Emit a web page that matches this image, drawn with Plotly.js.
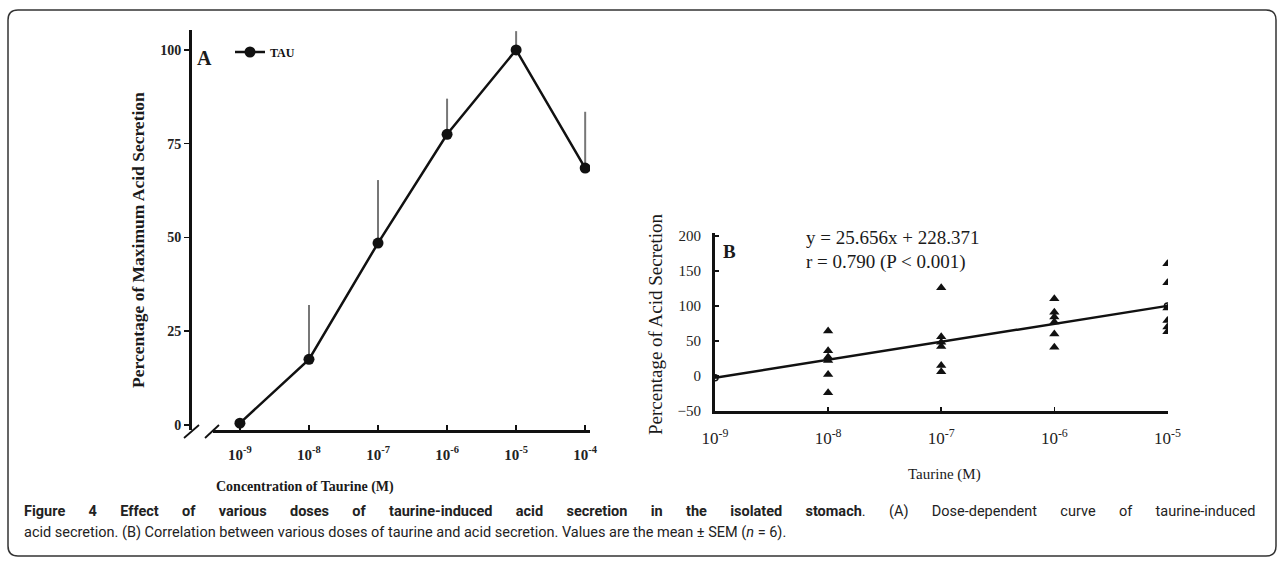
<!DOCTYPE html>
<html>
<head>
<meta charset="utf-8">
<script src="https://cdn.plot.ly/plotly-3.0.1.min.js"></script>
<style>
  html, body { margin: 0; padding: 0; background: #fff; }
  #chart { width: 1282px; height: 565px; }
</style>
</head>
<body>
<div id="chart"></div>
<script>
// ---- Panel A data: dose-response (mean, upper SEM) ----
const concA = [1e-9, 1e-8, 1e-7, 1e-6, 1e-5, 1e-4];
const meanA = [0.5, 17.5, 48.5, 77.5, 100, 68.5];
const semA  = [0, 14.5, 16.8, 9.5, 5, 15];
const tickLabelsA = ['10<sup>-9</sup>', '10<sup>-8</sup>', '10<sup>-7</sup>', '10<sup>-6</sup>', '10<sup>-5</sup>', '10<sup>-4</sup>'];
const yTicksA = [0, 25, 50, 75, 100];

// ---- Panel B data: individual responses (n = 6 per dose) ----
const doseB = [1e-8, 1e-8, 1e-8, 1e-8, 1e-8, 1e-8,
               1e-7, 1e-7, 1e-7, 1e-7, 1e-7, 1e-7,
               1e-6, 1e-6, 1e-6, 1e-6, 1e-6, 1e-6,
               1e-5, 1e-5, 1e-5, 1e-5, 1e-5, 1e-5];
const secB  = [64, 36, 27, 22, 2, -24,
               126, 56, 48, 42, 15, 6,
               110, 91, 84, 77, 60, 41,
               160, 133, 97, 79, 70, 63];
const fitX = [1e-9, 1e-5];
const fitY = [-2.5, 100];
const tickValsB = [1e-9, 1e-8, 1e-7, 1e-6, 1e-5];
const tickLabelsB = ['10<sup>-9</sup>', '10<sup>-8</sup>', '10<sup>-7</sup>', '10<sup>-6</sup>', '10<sup>-5</sup>'];
const yTicksB = [-50, 0, 50, 100, 150, 200];

const W = 1282, H = 565;
const px = x => x / W;
const py = y => 1 - y / H;
const SERIF = 'Liberation Serif, Times New Roman, serif';
const CAP = 'Roboto, Liberation Sans, sans-serif';
const WS = ' \u2003\u2004';   // widened space to imitate the justified first caption line
const just = s => s.split(' ').join(WS);

const traces = [
  {
    x: concA, y: meanA, name: 'TAU', type: 'scatter', mode: 'lines+markers',
    xaxis: 'x', yaxis: 'y',
    line: {color: '#111', width: 2.5},
    marker: {color: '#111', size: 11, symbol: 'circle'},
    error_y: {type: 'data', symmetric: false, array: semA, arrayminus: semA.map(() => 0),
              color: '#777', thickness: 2, width: 0}
  },
  {
    x: fitX, y: fitY, type: 'scatter', mode: 'lines+markers', showlegend: false,
    xaxis: 'x2', yaxis: 'y2',
    line: {color: '#111', width: 2.5},
    marker: {symbol: 'circle-open', size: 6, color: '#111', line: {width: 1.5}}
  },
  {
    x: doseB, y: secB, type: 'scatter', mode: 'markers', showlegend: false,
    xaxis: 'x2', yaxis: 'y2',
    marker: {symbol: 'triangle-up', size: 9, color: '#111'}
  }
];

const path = (x0, y0, x1, y1, r) =>
  `M ${px(x0 + r)},${py(y0)} L ${px(x1 - r)},${py(y0)} Q ${px(x1)},${py(y0)} ${px(x1)},${py(y0 + r)} ` +
  `L ${px(x1)},${py(y1 - r)} Q ${px(x1)},${py(y1)} ${px(x1 - r)},${py(y1)} ` +
  `L ${px(x0 + r)},${py(y1)} Q ${px(x0)},${py(y1)} ${px(x0)},${py(y1 - r)} ` +
  `L ${px(x0)},${py(y0 + r)} Q ${px(x0)},${py(y0)} ${px(x0 + r)},${py(y0)} Z`;

const ann = (text, x, y, size, opts) => Object.assign({
  text: text, xref: 'paper', yref: 'paper', x: px(x), y: py(y),
  xanchor: 'center', yanchor: 'middle', showarrow: false,
  font: {family: SERIF, size: size, color: '#1a1a1a'}
}, opts || {});

const layout = {
  width: W, height: H,
  margin: {l: 0, r: 0, t: 0, b: 0},
  paper_bgcolor: '#fff', plot_bgcolor: 'rgba(0,0,0,0)',
  showlegend: true,
  legend: {x: px(230), y: py(52), xanchor: 'left', yanchor: 'middle',
           bgcolor: 'rgba(0,0,0,0)', borderwidth: 0, itemwidth: 30,
           font: {family: SERIF, size: 12, color: '#111', weight: 'bold'}},
  xaxis: {
    type: 'log', domain: [px(213), px(590)], range: [-9.39, -3.93], anchor: 'y',
    showline: true, linewidth: 2.5, linecolor: '#111', showgrid: false, zeroline: false,
    ticks: 'inside', ticklen: 5, tickwidth: 1.5, tickcolor: '#111',
    tickvals: concA, ticktext: tickLabelsA, ticklabelstandoff: 9,
    tickfont: {family: SERIF, size: 15, color: '#222', weight: 'bold'}
  },
  yaxis: {
    domain: [py(430), py(30)], range: [-1.33, 105.3], anchor: 'free', position: px(190),
    showline: true, linewidth: 2.5, linecolor: '#111', showgrid: false, zeroline: false,
    ticks: 'outside', ticklen: 5, tickwidth: 1.5, tickcolor: '#111',
    tickvals: yTicksA,
    tickfont: {family: SERIF, size: 14, color: '#222', weight: 'bold'}
  },
  xaxis2: {
    type: 'log', domain: [px(715), px(1168)], range: [-9, -4.995], anchor: 'y2',
    showline: true, linewidth: 3, linecolor: '#111', showgrid: false, zeroline: false,
    ticks: 'inside', ticklen: 4, tickwidth: 1.5, tickcolor: '#111',
    tickvals: tickValsB, ticktext: tickLabelsB, ticklabelstandoff: 10,
    tickfont: {family: SERIF, size: 17, color: '#222'}
  },
  yaxis2: {
    domain: [py(411), py(233)], range: [-50, 204], anchor: 'x2',
    showline: true, linewidth: 3, linecolor: '#111', showgrid: false, zeroline: false,
    ticks: 'inside', ticklen: 4, tickwidth: 1.5, tickcolor: '#111',
    tickvals: yTicksB, ticklabelstandoff: 8,
    tickfont: {family: SERIF, size: 15, color: '#222'}
  },
  shapes: [
    {type: 'path', xref: 'paper', yref: 'paper', path: path(8, 10, 1276, 556, 10),
     line: {color: '#333', width: 1.5}, fillcolor: 'rgba(0,0,0,0)'},
    {type: 'line', xref: 'paper', yref: 'paper', x0: px(184), y0: py(438), x1: px(199), y1: py(425),
     line: {color: '#111', width: 1.8}},
    {type: 'line', xref: 'paper', yref: 'paper', x0: px(205), y0: py(438), x1: px(219), y1: py(425),
     line: {color: '#111', width: 1.8}}
  ],
  annotations: [
    ann('<b>A</b>', 195, 58, 20, {xanchor: 'left'}),
    ann('<b>Percentage of Maximum Acid Secretion</b>', 138, 240, 17.5, {textangle: -90}),
    ann('<b>Concentration of Taurine (M)</b>', 305, 487, 14),
    ann('<b>B</b>', 721, 252, 19, {xanchor: 'left'}),
    ann('y = 25.656x + 228.371', 804, 237, 19, {xanchor: 'left'}),
    ann('r = 0.790 (P < 0.001)', 804, 262, 19, {xanchor: 'left'}),
    ann('Percentage of Acid Secretion', 655, 324, 19, {textangle: -90}),
    ann('Taurine (M)', 944, 474, 15),
    {text: '<b>' + just('Figure 4 Effect of various doses of taurine-induced acid secretion in the isolated stomach') + '</b>. ' +
           just('(A) Dose-dependent curve of taurine-induced').replace('(A)', WS.slice(1) + '(A)'),
     xref: 'paper', yref: 'paper', x: px(22), y: py(511), xanchor: 'left', yanchor: 'middle',
     showarrow: false, font: {family: CAP, size: 14.5, color: '#222'}},
    {text: 'acid secretion. (B) Correlation between various doses of taurine and acid secretion. Values are the mean \u00b1 SEM (<i>n</i> = 6).',
     xref: 'paper', yref: 'paper', x: px(22), y: py(532), xanchor: 'left', yanchor: 'middle',
     showarrow: false, font: {family: CAP, size: 14.5, color: '#222'}}
  ]
};

Plotly.newPlot('chart', traces, layout, {staticPlot: true, displayModeBar: false});
</script>
</body>
</html>
